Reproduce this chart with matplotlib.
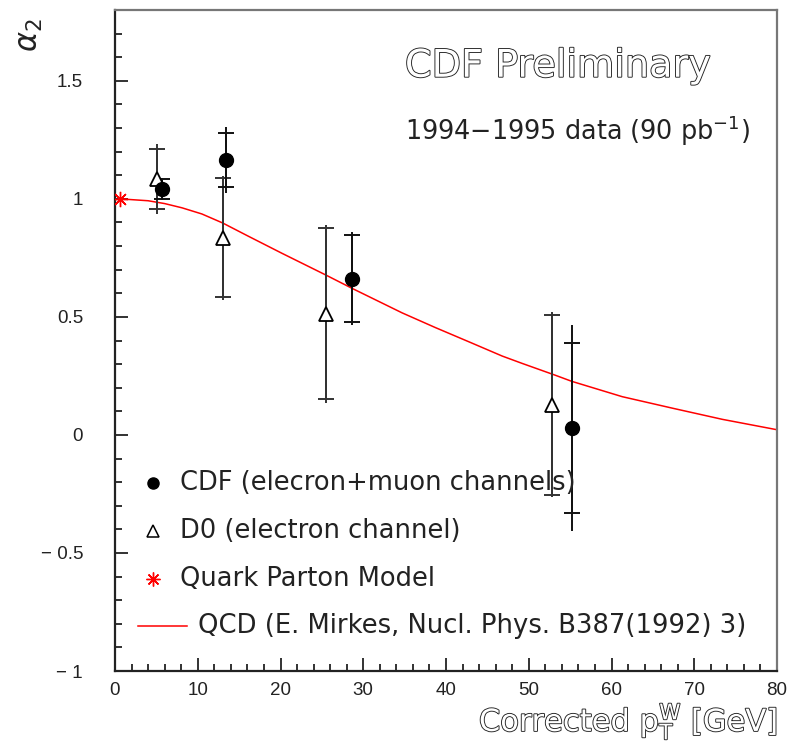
import numpy as np
import matplotlib
matplotlib.use("Agg")
import matplotlib.pyplot as plt
import matplotlib.patheffects as pe
from matplotlib.ticker import MultipleLocator

# CDF points (electron + muon): value, stat error (caps), total error (line)
cdf_pt = [5.65, 13.4, 28.7, 55.2]
cdf_a2 = [1.042, 1.165, 0.662, 0.030]
cdf_stat = [0.042, 0.115, 0.183, 0.360]
cdf_tot = [0.048, 0.140, 0.196, 0.435]

# D0 points (electron channel)
d0_pt = [5.05, 13.0, 25.5, 52.8]
d0_a2 = [1.084, 0.835, 0.514, 0.127]
d0_stat = [0.128, 0.252, 0.361, 0.380]
d0_tot = [0.150, 0.262, 0.377, 0.392]

# quark parton model expectation
qpm_pt = [0.6]
qpm_a2 = [1.0]

# QCD prediction (Mirkes)
qcd_pt = [0.6, 4.0, 6.0, 8.1, 10.5, 13.0, 16.1, 20.2, 25.5, 28.7, 34.7,
          38.7, 42.8, 46.8, 49.2, 53.2, 55.2, 61.3, 67.4, 73.4, 80.0]
qcd_a2 = [1.0, 0.992, 0.980, 0.962, 0.936, 0.898, 0.842, 0.769, 0.677, 0.620, 0.517,
          0.455, 0.394, 0.334, 0.303, 0.253, 0.227, 0.162, 0.113, 0.066, 0.022]

fig = plt.figure(figsize=(7.9, 7.45), dpi=100)
ax = fig.add_axes([115/790, 74/745, 662/790, 661/745])

ax.plot(qcd_pt, qcd_a2, color='red', lw=1.1, zorder=2)

# total errors as bare lines, stat errors with caps
ax.errorbar(d0_pt, d0_a2, yerr=d0_tot, fmt='none', ecolor='#333333', elinewidth=1.4, capsize=0, zorder=3)
ax.errorbar(d0_pt, d0_a2, yerr=d0_stat, fmt='none', ecolor='#333333', elinewidth=1.4,
            capsize=6, capthick=1.4, zorder=3)
ax.plot(d0_pt, d0_a2, ls='none', marker='^', ms=10, mfc='white', mec='black', mew=1.3, zorder=4)

ax.errorbar(cdf_pt, cdf_a2, yerr=cdf_tot, fmt='none', ecolor='#111111', elinewidth=1.4, capsize=0, zorder=3)
ax.errorbar(cdf_pt, cdf_a2, yerr=cdf_stat, fmt='none', ecolor='#111111', elinewidth=1.4,
            capsize=6, capthick=1.4, zorder=3)
ax.plot(cdf_pt, cdf_a2, ls='none', marker='o', ms=10, color='black', zorder=4)

ax.plot(qpm_pt, qpm_a2, ls='none', marker=(8, 2, 0), ms=11, mec='red', mew=1.0, zorder=5)

ax.set_xlim(0, 80)
ax.set_ylim(-1, 1.8)
ax.xaxis.set_major_locator(MultipleLocator(10))
ax.xaxis.set_minor_locator(MultipleLocator(2))
ax.yaxis.set_major_locator(MultipleLocator(0.5))
ax.yaxis.set_minor_locator(MultipleLocator(0.1))
ax.tick_params(which='both', direction='in', top=False, right=False, width=1.3, colors='#222222')
ax.tick_params(which='major', length=9.5)
ax.tick_params(which='minor', length=4.7)
ax.tick_params(axis='y', which='major', pad=23)
ax.tick_params(axis='x', which='major', pad=8)
ax.yaxis.set_major_formatter(plt.FuncFormatter(lambda v, p: ('%g' % v).replace('-', '\u2212 ')))
ax.xaxis.set_major_formatter(plt.FuncFormatter(lambda v, p: '%g' % v))
for lab in ax.get_xticklabels() + ax.get_yticklabels():
    lab.set_fontfamily('Liberation Sans')
    lab.set_fontsize(13.5)

for s in ['left', 'bottom']:
    ax.spines[s].set_linewidth(1.6)
    ax.spines[s].set_color('#222222')
for s in ['top', 'right']:
    ax.spines[s].set_linewidth(1.6)
    ax.spines[s].set_color('#777777')

hollow = [pe.withStroke(linewidth=1.3, foreground='#222222')]

ax.text(0.438, 0.899, 'CDF Preliminary', transform=ax.transAxes, fontsize=27.5,
        color='white', path_effects=hollow, va='baseline', ha='left')
ax.text(0.438, 0.803, r'1994$-$1995 data (90 pb$^{-1}$)', transform=ax.transAxes,
        fontsize=18.4, color='#222222', va='baseline', ha='left')
ax.text(1.0, -0.091, r'Corrected p$^{\rm W}_{\rm T}$ [GeV]', transform=ax.transAxes,
        fontsize=22, color='white', path_effects=hollow, va='baseline', ha='right')
ax.text(-0.128, 0.962, r'$\alpha_2$', transform=ax.transAxes, fontsize=22,
        rotation=90, ha='center', va='center', color='#222222')

# legend drawn by hand
lx, tx = 0.0574, 0.0982
ax.plot([lx], [0.2844], transform=ax.transAxes, marker='o', ms=8, color='black', clip_on=False)
ax.plot([lx], [0.2118], transform=ax.transAxes, marker='^', ms=8, mfc='white', mec='black',
        mew=1.1, clip_on=False)
ax.plot([lx], [0.1392], transform=ax.transAxes, marker=(8, 2, 0), ms=10, mec='red', mew=1.0,
        clip_on=False)
ax.plot([0.0347, 0.1088], [0.0681, 0.0681], transform=ax.transAxes, color='red', lw=1.1)
labels = ['CDF (elecron+muon channels)', 'D0 (electron channel)', 'Quark Parton Model']
for lab, yy in zip(labels, [0.2844, 0.2118, 0.1392]):
    ax.text(tx, yy, lab, transform=ax.transAxes, fontsize=18.5, va='center', ha='left', color='#222222')
ax.text(0.1254, 0.0681, 'QCD (E. Mirkes, Nucl. Phys. B387(1992) 3)', transform=ax.transAxes,
        fontsize=18.6, va='center', ha='left', color='#222222')

fig.savefig('out.png', dpi=100)
